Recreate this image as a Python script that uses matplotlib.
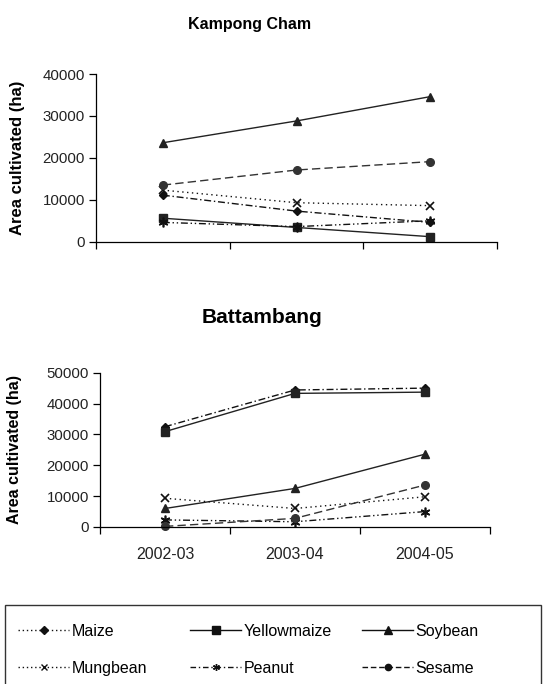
import matplotlib
matplotlib.use("Agg")
import matplotlib.pyplot as plt
from matplotlib.lines import Line2D
from matplotlib.patches import Rectangle

plt.rcParams['font.family'] = ['Liberation Sans', 'DejaVu Sans']

seasons = ["2002-03", "2003-04", "2004-05"]
crops = ["Maize", "Yellowmaize", "Soybean", "Mungbean", "Peanut", "Sesame"]

# Kampong Cham (ha)
kc_maize = [11100, 7300, 4600]
kc_yellowmaize = [5600, 3400, 1200]
kc_soybean = [23600, 28800, 34600]
kc_mungbean = [12300, 9300, 8600]
kc_peanut = [4600, 3600, 5000]
kc_sesame = [13500, 17100, 19100]

# Battambang (ha)
bb_maize = [32500, 44400, 45000]
bb_yellowmaize = [30900, 43300, 43700]
bb_soybean = [6000, 12500, 23600]
bb_mungbean = [9300, 6000, 9800]
bb_peanut = [2300, 1700, 5000]
bb_sesame = [200, 2800, 13600]

kc_yticks = [0, 10000, 20000, 30000, 40000]
bb_yticks = [0, 10000, 20000, 30000, 40000, 50000]

styles = {
    "Maize": dict(ls=(0, (5, 2, 1, 2)), marker="D", ms=4.5, color="#111111"),
    "Yellowmaize": dict(ls="-", marker="s", ms=5.5, color="#222222"),
    "Soybean": dict(ls="-", marker="^", ms=6, color="#222222"),
    "Mungbean": dict(ls=(0, (1, 2.5)), marker="x", ms=6, mew=1.2, color="#111111"),
    "Peanut": dict(ls=(0, (5, 2, 1, 2, 1, 2)), marker=(6, 2, 0), ms=7, mew=1.2, color="#111111"),
    "Sesame": dict(ls=(0, (6, 3)), marker="o", ms=5.5, color="#333333"),
}
legend_styles = {
    "Maize": dict(ls=(0, (1, 2)), marker="D", ms=4.5, color="#111111"),
    "Yellowmaize": dict(ls="-", marker="s", ms=5.5, color="#111111"),
    "Soybean": dict(ls="-", marker="^", ms=6, color="#111111"),
    "Mungbean": dict(ls=(0, (1, 2)), marker="x", ms=4, mew=1.0, color="#111111"),
    "Peanut": dict(ls=(0, (4, 2, 1, 2)), marker=(6, 2, 0), ms=5, mew=1.0, color="#111111"),
    "Sesame": dict(ls=(0, (4, 2)), marker="o", ms=4.5, color="#111111"),
}

kc_data = [kc_maize, kc_yellowmaize, kc_soybean, kc_mungbean, kc_peanut, kc_sesame]
bb_data = [bb_maize, bb_yellowmaize, bb_soybean, bb_mungbean, bb_peanut, bb_sesame]

W, H = 547, 684
fig = plt.figure(figsize=(W / 100, H / 100), dpi=100)

def frac_axes(l, r, t, b):
    return fig.add_axes([l / W, 1 - b / H, (r - l) / W, (b - t) / H])

ax1 = frac_axes(96, 497, 74, 241.7)
ax2 = frac_axes(100, 490, 372.7, 527)

x = list(range(len(seasons)))
for ax, data, yt, ylfs in [(ax1, kc_data, kc_yticks, 12), (ax2, bb_data, bb_yticks, 11.5)]:
    for crop, vals in zip(crops, data):
        st = styles[crop]
        ax.plot(x, vals, lw=1.0, clip_on=False, **st)
    ax.set_xlim(-0.5, 2.5)
    ax.set_ylim(yt[0], yt[-1])
    ax.set_yticks(yt)
    ax.set_yticklabels([str(v) for v in yt], fontsize=10.8, color="#222222")
    ax.set_xticks([-0.5, 0.5, 1.5, 2.5])
    ax.set_xticklabels([])
    ax.spines["top"].set_visible(False)
    ax.spines["right"].set_visible(False)
    for s in ("left", "bottom"):
        ax.spines[s].set_linewidth(0.9)
    ax.tick_params(axis="both", direction="out", length=5, width=0.9, pad=3)
    ax.set_ylabel("Area cultivated (ha)", fontsize=ylfs, fontweight="bold")

ax1.yaxis.set_label_coords(-0.177, 0.5)
ax2.yaxis.set_label_coords(-0.2, 0.5)

# category labels on bottom chart
for i, s in enumerate(seasons):
    ax2.text(i, -0.18, s, transform=ax2.get_xaxis_transform(), ha="center",
             va="center", fontsize=11.5, color="#222222")

fig.text(250 / W, 1 - 25 / H, "Kampong Cham", ha="center", va="center",
         fontsize=11.5, fontweight="bold")
fig.text(262 / W, 1 - 317 / H, "Battambang", ha="center", va="center",
         fontsize=15, fontweight="bold")

# legend box
fig.add_artist(Rectangle((5 / W, -0.01), 536 / W, (684 - 605) / H + 0.01,
                         transform=fig.transFigure, fill=False, lw=1.0,
                         edgecolor="#333333"))

columns = [["Maize", "Mungbean"], ["Yellowmaize", "Peanut"], ["Soybean", "Sesame"]]
col_x = [18, 190, 362]
for cx, col in zip(col_x, columns):
    handles = [Line2D([], [], lw=1.0, **legend_styles[c]) for c in col]
    fig.legend(handles, col, loc="upper left", bbox_to_anchor=(cx / W, 1 - 624 / H),
               frameon=False, fontsize=11.5, handlelength=3.2, handletextpad=0.15,
               labelspacing=1.35, borderpad=0, borderaxespad=0)

fig.savefig("out.png", dpi=100)
